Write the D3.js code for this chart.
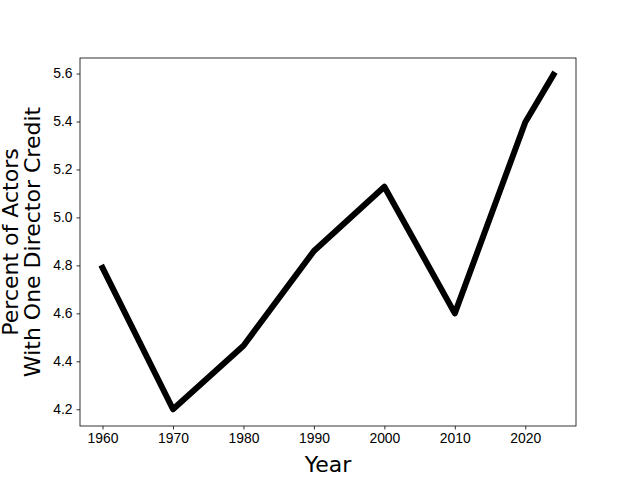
<!DOCTYPE html>
<html>
<head>
<meta charset="utf-8">
<script src="https://cdn.jsdelivr.net/npm/d3@7"></script>
<style>
  body { margin: 0; background: #fff; }
  svg { font-family: "DejaVu Sans", sans-serif; }
</style>
</head>
<body>
<div id="chart"></div>
<script>
const years = [1960, 1970, 1980, 1990, 2000, 2010, 2020, 2024];
const percents = [4.79, 4.20, 4.465, 4.86, 5.128, 4.60, 5.397, 5.595];
const xTicks = [1960, 1970, 1980, 1990, 2000, 2010, 2020];
const yTicks = [4.2, 4.4, 4.6, 4.8, 5.0, 5.2, 5.4, 5.6];

let margin = { top: 58, right: 64, bottom: 54, left: 80 };
let width = 640 - margin.left - margin.right;
let height = 480 - margin.top - margin.bottom;

let svg = d3.select('#chart')
  .append('svg')
  .attr('width', 640)
  .attr('height', 480)
  .append('g')
  .attr('transform', `translate(${margin.left}, ${margin.top})`);

// matplotlib style 5% margins
let xPad = (d3.max(years) - d3.min(years)) * 0.05;
let yPad = (d3.max(percents) - d3.min(percents)) * 0.05;

let xScale = d3.scaleLinear()
  .domain([d3.min(years) - xPad, d3.max(years) + xPad])
  .range([0, width]);

let yScale = d3.scaleLinear()
  .domain([d3.min(percents) - yPad, d3.max(percents) + yPad])
  .range([height, 0]);

let data = years.map((y, i) => ({ year: y, value: percents[i] }));

let line = d3.line()
  .x(d => xScale(d.year))
  .y(d => yScale(d.value));

svg.append('path')
  .datum(data)
  .attr('d', line)
  .attr('fill', 'none')
  .attr('stroke', '#000')
  .attr('stroke-width', 6)
  .attr('stroke-linejoin', 'round')
  .attr('stroke-linecap', 'square');

let xAxis = d3.axisBottom(xScale)
  .tickValues(xTicks)
  .tickFormat(d3.format('d'))
  .tickSize(3.5)
  .tickPadding(4);

let gx = svg.append('g')
  .attr('transform', `translate(0, ${height})`)
  .call(xAxis);

let yAxis = d3.axisLeft(yScale)
  .tickValues(yTicks)
  .tickFormat(d3.format('.1f'))
  .tickSize(3.5)
  .tickPadding(4);

let gy = svg.append('g').call(yAxis);

[gx, gy].forEach(g => {
  g.select('.domain').remove();
  g.selectAll('text').style('font-size', '13.9px').attr('fill', '#000');
  g.selectAll('line').attr('stroke', '#000').attr('stroke-width', 0.8);
});

// frame
svg.append('rect')
  .attr('x', 0)
  .attr('y', 0)
  .attr('width', width)
  .attr('height', height)
  .attr('fill', 'none')
  .attr('stroke', '#000')
  .attr('stroke-width', 0.8);

svg.append('text')
  .attr('x', width / 2)
  .attr('y', height + 46)
  .style('text-anchor', 'middle')
  .style('font-size', '22px')
  .text('Year');

let yLabel = svg.append('text')
  .attr('transform', `translate(${-62.5}, ${height / 2}) rotate(-90)`)
  .style('text-anchor', 'middle')
  .style('font-size', '22px');

yLabel.append('tspan').attr('x', 0).attr('dy', 0).text('Percent of Actors');
yLabel.append('tspan').attr('x', 0).attr('dy', '1.04em').text('With One Director Credit');
</script>
</body>
</html>
